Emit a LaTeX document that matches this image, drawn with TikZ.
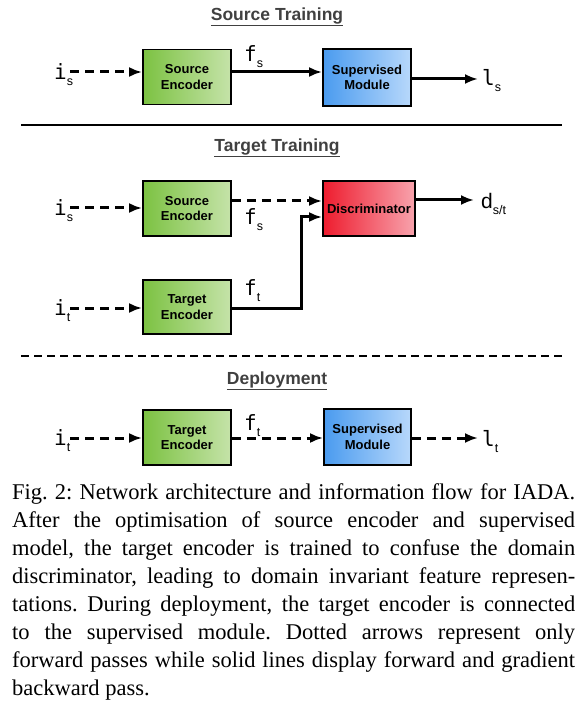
\documentclass[tikz,border=0pt]{standalone}
\usepackage{fontspec}
\setmainfont{Liberation Serif}
\newfontfamily\boxfont{Liberation Sans}
\newfontfamily\monofont{DejaVu Sans Mono}
\newfontfamily\lsans{Liberation Sans}
\usetikzlibrary{arrows.meta}
\definecolor{gL}{HTML}{7CC242}
\definecolor{gR}{HTML}{C5E3A9}
\definecolor{bL}{HTML}{4A9BEF}
\definecolor{bR}{HTML}{B8D8FB}
\definecolor{rL}{HTML}{EE1C2E}
\definecolor{rR}{HTML}{F8A3AD}
\definecolor{ttl}{HTML}{404040}
\newcommand\mylab[2]{{\fontsize{21}{21}\monofont #1}\raisebox{-6pt}{\fontsize{12.5}{12.5}\lsans #2}}
\tikzset{
  blk/.style={draw=black, line width=1.8pt, minimum width=88pt, minimum height=55pt,
    inner sep=0pt, align=center, font=\boxfont\bfseries\fontsize{13}{15.5}\selectfont},
  green/.style={blk, left color=gL, right color=gR},
  blue/.style={blk, left color=bL, right color=bR},
  red/.style={blk, left color=rL, right color=rR},
  ttlnode/.style={font=\boxfont\bfseries\fontsize{17.5}{19}\selectfont, text=ttl, inner sep=0pt},
  lab/.style={inner sep=0pt, anchor=base west},
  sol/.style={line width=3pt, -{Latex[length=13pt,width=10pt]}},
  dsh/.style={line width=3pt, dash pattern=on 9pt off 6pt, -{Latex[length=13pt,width=10pt]}},
}
\begin{document}
\begin{tikzpicture}[x=1pt,y=-1pt]
\useasboundingbox (0,0) rectangle (585,703);
% ---------- Source Training ----------
\node[ttlnode] (t1) at (277,17) {\underline{Source Training}};
\node[green] (se1) at (187,77) {Source\\Encoder};
\node[blue, minimum height=57pt] (sm1) at (367,77.5) {Supervised\\Module};
\node[lab] (is1) at (54,80) {\mylab{i}{s}};
\node[lab] (fs1) at (244,62) {\mylab{f}{s}};
\node[lab] (ls1) at (482,86) {\mylab{l}{s}};
\coordinate (is1e) at (70,72);
\coordinate (ls1w) at (478,79);
\draw[dsh] (is1e) -- (is1e -| se1.west);
\draw[sol] (se1.east |- is1e) -- (sm1.west |- is1e);
\draw[sol] (sm1.east |- ls1w) -- (ls1w);
% separator
\coordinate (sepL) at (21,125);
\coordinate (sepR) at (562,125);
\draw[line width=2.6pt] (sepL) -- (sepR);
% ---------- Target Training ----------
\node[ttlnode] (t2) at (277,148) {\underline{Target Training}};
\node[green] (se2) at (187,208.5) {Source\\Encoder};
\node[red, minimum width=92pt] (dis) at (369,208.5) {Discriminator};
\node[green, minimum height=54pt] (te2) at (187,307) {Target\\Encoder};
\node[lab] (is2) at (54,215) {\mylab{i}{s}};
\node[lab] (it2) at (54,315) {\mylab{i}{t}};
\node[lab] (fs2) at (244,224) {\mylab{f}{s}};
\node[lab] (ft2) at (244,295) {\mylab{f}{t}};
\node[lab] (dst) at (481,208) {{\fontsize{21}{21}\lsans d}\raisebox{-6pt}{\fontsize{12.5}{12.5}\lsans s/t}};
\coordinate (is2e) at (70,208);
\coordinate (it2e) at (70,308);
\coordinate (bend) at (301,308);
\coordinate (dstw) at (474,200);
\draw[dsh] (is2e) -- (is2e -| se2.west);
\draw[dsh] (it2e) -- (it2e -| te2.west);
\draw[dsh] (se2.east |- 0,201) -- (dis.west |- 0,201);
\draw[line width=3pt, -{Latex[length=13pt,width=10pt]}] (te2.east |- bend) -- (bend) -- (bend |- 0,217) -- (dis.west |- 0,217);
\draw[sol] (dis.east |- dstw) -- (dstw);
% dashed separator
\coordinate (sep2L) at (21,356);
\coordinate (sep2R) at (562,356);
\draw[line width=2.6pt, dash pattern=on 8pt off 5pt] (sep2L) -- (sep2R);
% ---------- Deployment ----------
\node[ttlnode] (t3) at (277,381) {\underline{Deployment}};
\node[green] (te3) at (187,437.5) {Target\\Encoder};
\node[blue, minimum width=87pt, minimum height=56pt] (sm3) at (367.5,437) {Supervised\\Module};
\node[lab] (it3) at (54,445) {\mylab{i}{t}};
\node[lab] (ft3) at (244,430) {\mylab{f}{t}};
\node[lab] (lt3) at (482,446) {\mylab{l}{t}};
\coordinate (it3e) at (70,438);
\coordinate (lt3w) at (478,438);
\draw[dsh] (it3e) -- (it3e -| te3.west);
\draw[dsh] (te3.east |- it3e) -- (sm3.west |- it3e);
\draw[dsh] (sm3.east |- lt3w) -- (lt3w);
% ---------- Caption ----------
\node[anchor=north west, inner sep=0pt, text width=563pt, align=justify,
  font=\fontsize{22.5}{28}\selectfont\frenchspacing] (cap) at (12,483) {%
Fig. 2: Network architecture and information flow for IADA.\linebreak
After the optimisation of source encoder and supervised\linebreak
model, the target encoder is trained to confuse the domain\linebreak
discriminator, leading to domain invariant feature represen-\linebreak
tations. During deployment, the target encoder is connected\linebreak
to the supervised module. Dotted arrows represent only\linebreak
forward passes while solid lines display forward and gradient\linebreak
backward pass.};
\end{tikzpicture}
\end{document}
